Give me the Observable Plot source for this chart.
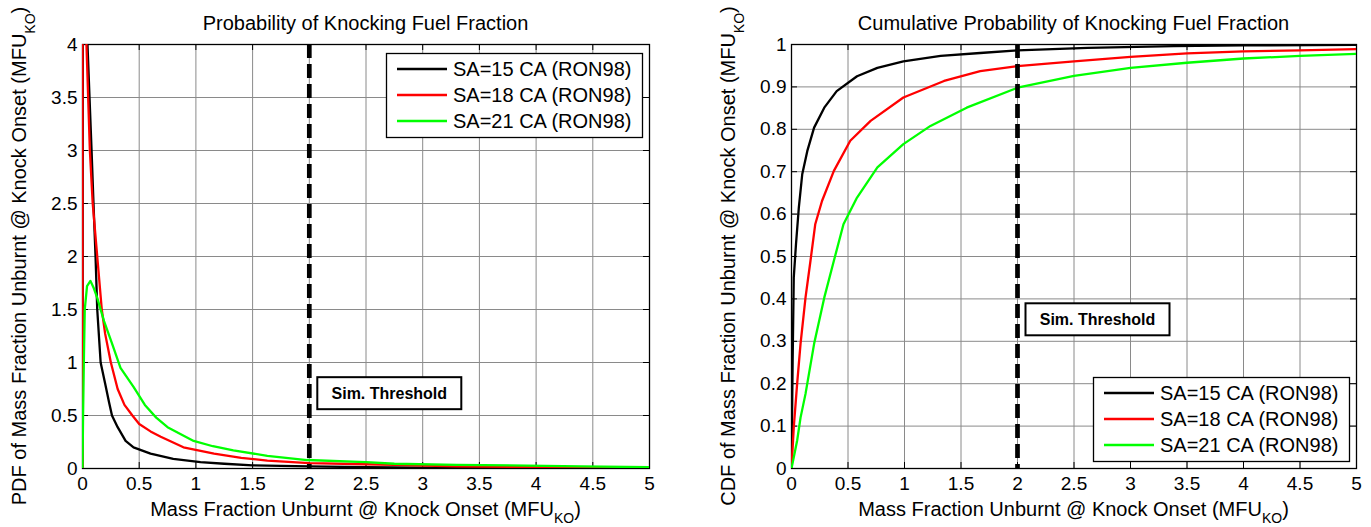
<!DOCTYPE html>
<html>
<head>
<meta charset="utf-8">
<script src="https://cdn.jsdelivr.net/npm/d3@7"></script>
<script src="https://cdn.jsdelivr.net/npm/@observablehq/plot@0.6"></script>
<style>
  body { margin: 0; background: #ffffff; }
  #wrap { width: 1371px; height: 527px; display: flex; overflow: hidden; }
  svg { font-family: "Liberation Sans", Arial, sans-serif; }
</style>
</head>
<body>
<div id="wrap"></div>
<script>
// ---------------- data ----------------
const seriesNames = ["SA=15 CA (RON98)", "SA=18 CA (RON98)", "SA=21 CA (RON98)"];
const seriesColors = ["#000000", "#ff0000", "#00ff00"];

const xTicks = [0, 0.5, 1, 1.5, 2, 2.5, 3, 3.5, 4, 4.5, 5];
const xTickLabels = ["0", "0.5", "1", "1.5", "2", "2.5", "3", "3.5", "4", "4.5", "5"];
const pdfYTicks = [0, 0.5, 1, 1.5, 2, 2.5, 3, 3.5, 4];
const pdfYTickLabels = ["0", "0.5", "1", "1.5", "2", "2.5", "3", "3.5", "4"];
const cdfYTicks = [0, 0.1, 0.2, 0.3, 0.4, 0.5, 0.6, 0.7, 0.8, 0.9, 1];
const cdfYTickLabels = ["0", "0.1", "0.2", "0.3", "0.4", "0.5", "0.6", "0.7", "0.8", "0.9", "1"];

const threshold = 2;
const thresholdLabel = "Sim. Threshold";

// PDF curves [MFU_KO, density]
const pdfSA15 = [[0,0],[0.003,5],[0.03,5],[0.044,4],[0.08,3],[0.097,2.5],[0.115,2],[0.13,1.5],[0.16,1.0],
  [0.2,0.8],[0.235,0.62],[0.26,0.5],[0.31,0.39],[0.38,0.26],[0.45,0.2],[0.6,0.14],[0.8,0.09],[1.04,0.06],[1.25,0.045],
  [1.5,0.03],[1.75,0.025],[2,0.02],[2.5,0.012],[3,0.008],[3.3,0.006],[4.4,0.003],[5,0.002]];
const pdfSA18 = [[0,0],[0,5],[0.03,5],[0.035,4],[0.065,3],[0.09,2.5],[0.13,2],[0.17,1.5],[0.2,1.27],[0.25,1.0],
  [0.31,0.75],[0.37,0.6],[0.44,0.5],[0.5,0.42],[0.6,0.35],[0.69,0.3],[0.89,0.2],[1.16,0.14],[1.4,0.1],[1.63,0.075],[2,0.05],[2.5,0.04],
  [2.75,0.035],[3.3,0.02],[4.4,0.01],[5,0.008]];
const pdfSA21 = [[0,0],[0.005,0.5],[0.012,1.02],[0.02,1.5],[0.04,1.72],[0.07,1.77],[0.1,1.7],[0.13,1.61],
  [0.19,1.39],[0.26,1.18],[0.335,0.95],[0.45,0.77],[0.55,0.6],[0.65,0.48],[0.75,0.39],[0.98,0.26],[1.15,0.21],[1.33,0.17],
  [1.63,0.12],[1.98,0.08],[2.5,0.06],[2.75,0.045],[3.3,0.035],[4.4,0.02],[5,0.012]];

// CDF curves [MFU_KO, cumulative probability]
const cdfSA15 = [[0,0],[0.01,0.25],[0.02,0.45],[0.04,0.53],[0.065,0.616],[0.095,0.694],[0.14,0.749],[0.2,0.804],
  [0.29,0.851],[0.4,0.89],[0.58,0.925],[0.76,0.945],[0.99,0.96],[1.32,0.973],[1.67,0.98],[2.0,0.986],
  [2.62,0.992],[3.38,0.996],[4.0,0.998],[5.0,0.999]];
const cdfSA18 = [[0,0],[0.02,0.097],[0.05,0.2],[0.08,0.294],[0.124,0.403],[0.168,0.49],[0.21,0.576],[0.27,0.631],
  [0.375,0.702],[0.52,0.773],[0.7,0.82],[0.99,0.875],[1.35,0.914],[1.67,0.937],[2.0,0.949],[2.5,0.96],
  [3.0,0.971],[3.5,0.979],[4.0,0.984],[4.5,0.986],[5.0,0.989]];
const cdfSA21 = [[0,0],[0.05,0.066],[0.08,0.12],[0.124,0.176],[0.2,0.294],[0.29,0.403],[0.375,0.49],[0.46,0.576],
  [0.58,0.639],[0.76,0.71],[0.99,0.765],[1.23,0.808],[1.55,0.851],[2.0,0.898],[2.5,0.926],[3.0,0.945],
  [3.5,0.957],[4.0,0.967],[4.5,0.973],[5.0,0.978]];

const xLabelMain = "Mass Fraction Unburnt @ Knock Onset (MFU";
const pdfYLabelMain = "PDF of Mass Fraction Unburnt @ Knock Onset (MFU";
const cdfYLabelMain = "CDF of Mass Fraction Unburnt @ Knock Onset (MFU";
const labelSub = "KO";
const pdfTitle = "Probability of Knocking Fuel Fraction";
const cdfTitle = "Cumulative Probability of Knocking Fuel Fraction";

// ---------------- drawing ----------------
const FONT = "'Liberation Sans', Arial, sans-serif";
const H = 527, MT = 44, MB = 59;
const wrap = document.getElementById("wrap");

function panel(cfg) {
  const plotW = cfg.width - cfg.marginLeft - cfg.marginRight;
  const plotH = H - MT - MB;
  const rows = cfg.series.flatMap((pts, i) => pts.map(([x, y]) => ({x, y, s: seriesNames[i]})));
  const fmt = (ticks, labels) => d => labels[ticks.indexOf(d)];
  const gridStyle = {stroke: "#8a8a8a", strokeOpacity: 1, strokeWidth: 1};
  const svg = Plot.plot({
    width: cfg.width, height: H,
    marginLeft: cfg.marginLeft, marginRight: cfg.marginRight, marginTop: MT, marginBottom: MB,
    style: {fontFamily: FONT, background: "#ffffff", color: "#000000", overflow: "visible"},
    x: {domain: [0, 5]},
    y: {domain: cfg.yDomain},
    color: {domain: seriesNames, range: seriesColors},
    marks: [
      Plot.gridX(xTicks, gridStyle),
      Plot.gridY(cfg.yTicks, gridStyle),
      Plot.frame({stroke: "#000", strokeWidth: 1.3}),
      Plot.tickX(xTicks, {x: d => d, insetTop: plotH - 6, stroke: "#000"}),
      Plot.tickX(xTicks, {x: d => d, insetBottom: plotH - 6, stroke: "#000"}),
      Plot.tickY(cfg.yTicks, {y: d => d, insetRight: plotW - 6, stroke: "#000"}),
      Plot.tickY(cfg.yTicks, {y: d => d, insetLeft: plotW - 6, stroke: "#000"}),
      Plot.axisX(xTicks, {tickSize: 0, tickPadding: 8, fontSize: 19, label: null,
        tickFormat: fmt(xTicks, xTickLabels)}),
      Plot.axisY(cfg.yTicks, {tickSize: 0, tickPadding: 5, fontSize: 19, label: null,
        tickFormat: fmt(cfg.yTicks, cfg.yTickLabels)}),
      Plot.line(rows, {x: "x", y: "y", z: "s", stroke: "s", strokeWidth: 2.3, clip: true}),
      Plot.ruleX([threshold], {stroke: "#000", strokeWidth: 4.7, strokeDasharray: "14,6"}),
      Plot.text([thresholdLabel], {x: [threshold], y: [cfg.labelY], text: d => d, dx: 80,
        fontWeight: "bold", fontSize: 16, fill: "#000", className: "simlabel"})
    ]
  });
  wrap.appendChild(svg);
  const s = d3.select(svg);
  const cx = cfg.marginLeft + plotW / 2;

  // title
  s.append("text").attr("x", cx).attr("y", 30).attr("text-anchor", "middle")
    .attr("font-size", 20).attr("fill", "#000").text(cfg.title);

  // x label with subscript
  const xl = s.append("text").attr("x", cx).attr("y", 516).attr("text-anchor", "middle")
    .attr("font-size", 20).attr("fill", "#000");
  xl.append("tspan").text(xLabelMain);
  xl.append("tspan").attr("font-size", 14).attr("dy", 7).text(labelSub);
  xl.append("tspan").attr("dy", -7).text(")");

  // y label (rotated) with subscript
  const yl = s.append("text")
    .attr("transform", `translate(${cfg.yLabelX},${MT + plotH / 2}) rotate(-90)`)
    .attr("text-anchor", "middle").attr("font-size", 20).attr("fill", "#000");
  yl.append("tspan").text(cfg.yLabel);
  yl.append("tspan").attr("font-size", 14).attr("dy", 9).text(labelSub);
  yl.append("tspan").attr("dy", -9).text(")");

  // box behind "Sim. Threshold"
  const g = svg.querySelector("g.simlabel");
  const t = g.querySelector("text");
  const sb = svg.getBoundingClientRect();
  const bb = t.getBoundingClientRect();
  const bcx = bb.left - sb.left + bb.width / 2, bcy = bb.top - sb.top + bb.height / 2;
  const rect = document.createElementNS("http://www.w3.org/2000/svg", "rect");
  rect.setAttribute("x", bcx - 72); rect.setAttribute("y", bcy - 16);
  rect.setAttribute("width", 144); rect.setAttribute("height", 32);
  rect.setAttribute("fill", "#fff"); rect.setAttribute("stroke", "#000"); rect.setAttribute("stroke-width", 2);
  svg.insertBefore(rect, g);

  // legend
  const lg = s.append("g").attr("transform", `translate(${cfg.legendX},${cfg.legendY})`)
    .attr("text-anchor", "start");
  lg.append("rect").attr("x", 0.5).attr("y", 0.5).attr("width", 256).attr("height", 84)
    .attr("fill", "#fff").attr("stroke", "#000").attr("stroke-width", 1.3);
  seriesNames.forEach((name, i) => {
    const yy = 16 + i * 26;
    lg.append("line").attr("x1", 11).attr("x2", 61).attr("y1", yy).attr("y2", yy)
      .attr("stroke", seriesColors[i]).attr("stroke-width", 2.3);
    lg.append("text").attr("x", 67).attr("y", yy).attr("dy", "0.36em").attr("font-size", 20)
      .attr("text-anchor", "start").attr("fill", "#000").text(name);
  });
}

panel({
  width: 686, marginLeft: 82, marginRight: 37,
  yDomain: [0, 4], yTicks: pdfYTicks, yTickLabels: pdfYTickLabels,
  series: [pdfSA15, pdfSA18, pdfSA21],
  labelY: 0.707, title: pdfTitle, yLabel: pdfYLabelMain, yLabelX: 26,
  legendX: 386, legendY: 53
});
panel({
  width: 685, marginLeft: 105, marginRight: 15,
  yDomain: [0, 1], yTicks: cdfYTicks, yTickLabels: cdfYTickLabels,
  series: [cdfSA15, cdfSA18, cdfSA21],
  labelY: 0.351, title: cdfTitle, yLabel: cdfYLabelMain, yLabelX: 49,
  legendX: 407, legendY: 377
});
</script>
</body>
</html>
